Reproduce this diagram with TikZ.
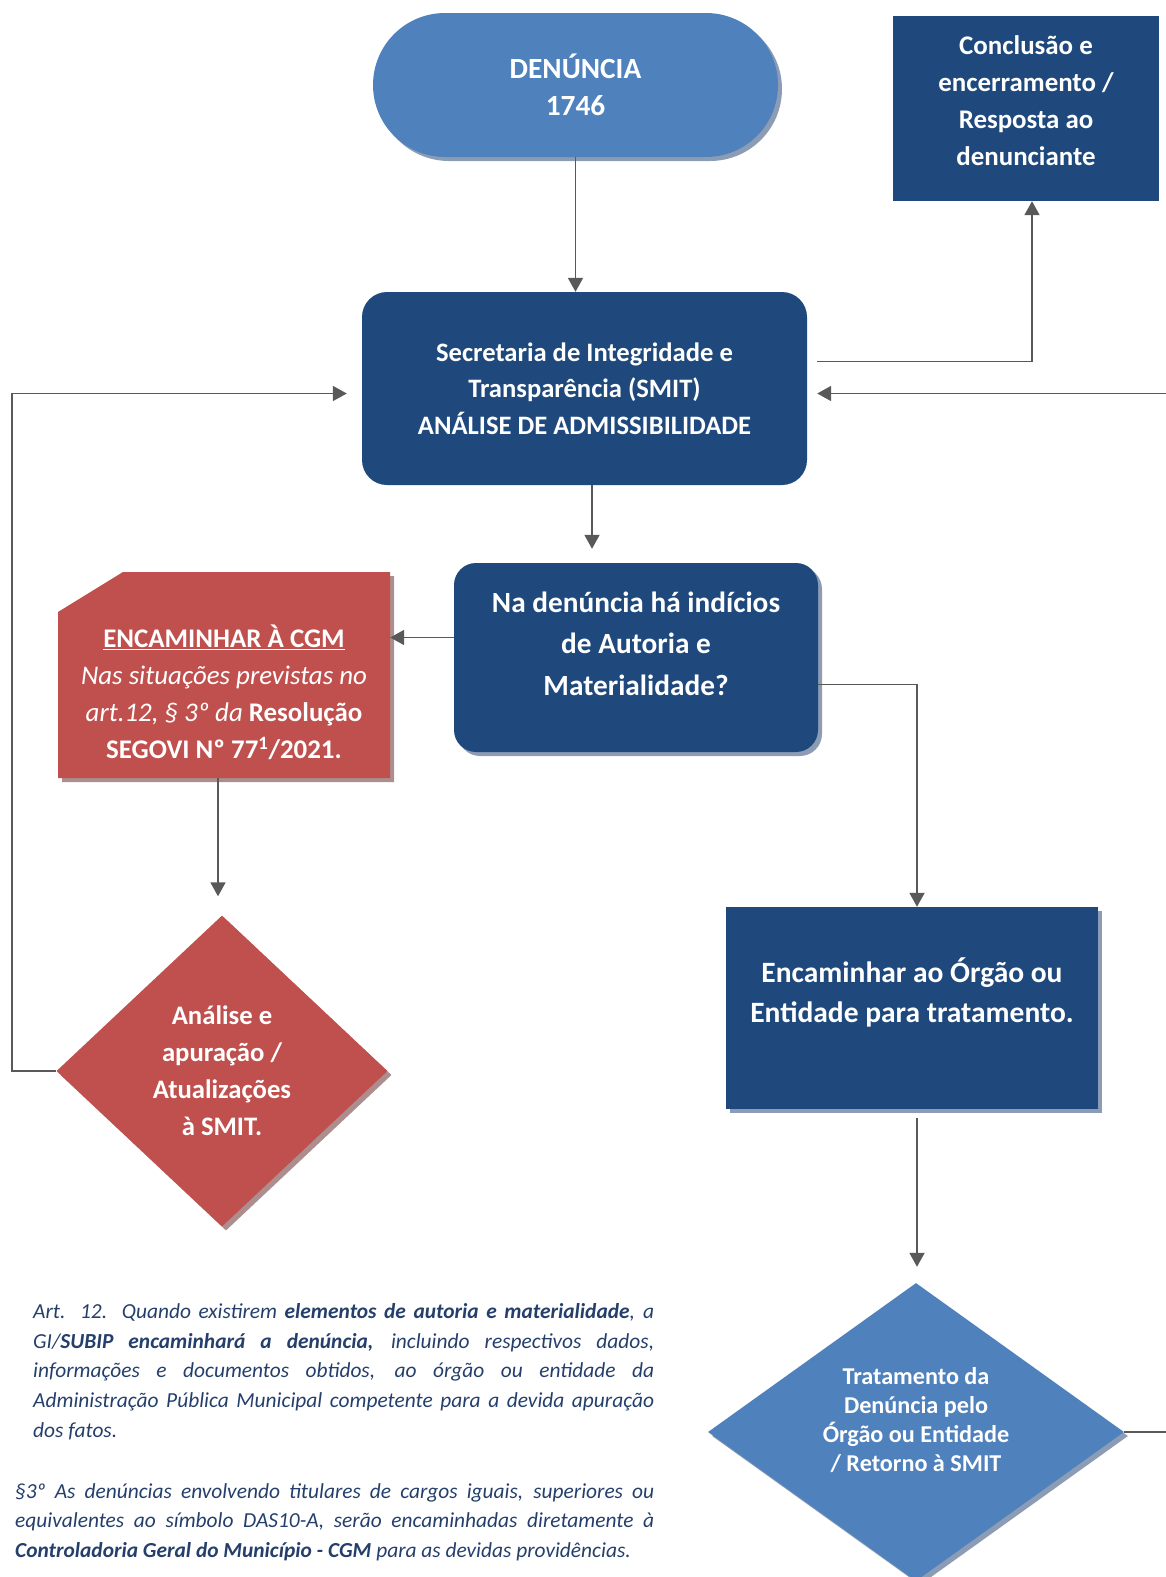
\documentclass[tikz,border=0pt]{standalone}
\usepackage{fontspec}
\setmainfont{Carlito}
\usetikzlibrary{arrows.meta,shapes.geometric,shadows}

\definecolor{darkblue}{HTML}{1F497D}
\definecolor{midblue}{HTML}{4F81BD}
\definecolor{cgmred}{HTML}{C0504D}
\definecolor{blueshadow}{HTML}{8C9CB4}
\definecolor{redshadow}{HTML}{AC8E8E}
\definecolor{arrowgray}{HTML}{595959}
\definecolor{notetext}{HTML}{243F6B}

\begin{document}
\begin{tikzpicture}[x=1pt,y=-1pt,
    bshadow/.style={drop shadow={shadow xshift=4pt,shadow yshift=-4pt,fill=blueshadow,opacity=1}},
    rshadow/.style={drop shadow={shadow xshift=4pt,shadow yshift=-4pt,fill=redshadow,opacity=1}},
    boxtext/.style={text=white,align=center,inner sep=0pt},
    arr/.style={draw=arrowgray,line width=1.8pt,-{Triangle[width=15pt,length=14pt]}},
    note/.style={text=notetext,align=justify,inner sep=0pt,anchor=north west,
      font=\fontsize{21.4}{29.8}\selectfont\itshape}]
    \useasboundingbox (0,0) rectangle (1166,1577);

    % Start of the flow
    \node[fill=midblue,bshadow,rounded corners=72pt,minimum width=405pt,minimum height=144pt,
      boxtext,font=\fontsize{29.3}{37}\selectfont\bfseries] (den) at (575.5,85) {DENÚNCIA\\1746};

    % Admissibility box
    \node[fill=darkblue,rounded corners=25pt,minimum width=445pt,minimum height=193pt,
      boxtext,font=\fontsize{26.6}{36.5}\selectfont\bfseries] (smit) at (584.5,388.5)
      {Secretaria de Integridade e\\Transparência (SMIT)\\ANÁLISE DE ADMISSIBILIDADE};

    % Conclusion box
    \node[fill=darkblue,minimum width=266pt,minimum height=185pt,
      label={[boxtext,yshift=7.5pt,font=\fontsize{26.9}{37}\selectfont\bfseries]center:{Conclusão e\\encerramento /\\Resposta ao\\denunciante}}]
      (concl) at (1026,108.5) {};

    % Question box
    \node[fill=darkblue,bshadow,rounded corners=22pt,minimum width=364pt,minimum height=189pt,
      label={[boxtext,yshift=14pt,font=\fontsize{29.3}{41.5}\selectfont\bfseries]center:{Na denúncia há indícios\\de Autoria e\\Materialidade?}}]
      (na) at (636,657.5) {};

    % CGM box with cut corner
    \fill[redshadow] (62,616) -- (127,576) -- (394,576) -- (394,782) -- (62,782) -- cycle;
    \fill[cgmred] (58,612) -- (123,572) -- (390,572) -- (390,778) -- (58,778) -- cycle;
    \node[minimum width=332pt,minimum height=206pt,
      label={[boxtext,yshift=-17.5pt,font=\fontsize{26.9}{37}\selectfont]center:{\textbf{\underline{ENCAMINHAR À CGM}}\\\textit{Nas situações previstas no}\\\textit{art.12, § 3º da} \textbf{Resolução}\\\textbf{SEGOVI Nº 77\textsuperscript{1}/2021.}}}]
      (cgm) at (224,675) {};

    % CGM analysis
    \node[diamond,fill=cgmred,rshadow,minimum width=331pt,minimum height=311pt,
      boxtext,font=\fontsize{26.7}{37}\selectfont\bfseries] (apur) at (222,1071)
      {Análise e\\apuração /\\Atualizações\\à SMIT.};

    % Forward to the body
    \node[fill=darkblue,bshadow,minimum width=372pt,minimum height=202pt,
      label={[boxtext,yshift=15.5pt,font=\fontsize{29.5}{40}\selectfont\bfseries]center:{Encaminhar ao Órgão ou\\Entidade para tratamento.}}]
      (encam) at (912,1008) {};

    % Treatment by the body
    \node[diamond,fill=midblue,bshadow,minimum width=416pt,minimum height=298pt,
      label={[boxtext,yshift=12pt,font=\fontsize{24.2}{29.3}\selectfont\bfseries]center:{Tratamento da\\Denúncia pelo\\Órgão ou Entidade\\/ Retorno à SMIT}}]
      (trat) at (916,1432) {};

    \coordinate (lft) at (12,0);
    \coordinate (rgt) at (1190,0);

    % Connectors
    \draw[arr] (den.south) -- (den.south |- smit.north);
    \draw[arr,shorten <=10pt] ([yshift=27pt]smit.east) -| ([xshift=6pt]concl.south);
    \draw[arr,shorten >=14pt] ([xshift=7.5pt]smit.south) -- ([xshift=7.5pt]smit.south |- na.north);
    \draw[arr] ([yshift=20pt]na.west) -- ([yshift=20pt]na.west -| cgm.east);
    \draw[arr,shorten >=19pt] ([xshift=-6pt]cgm.south) -- ([xshift=-6pt]cgm.south |- apur.north);
    \draw[arr,shorten >=15pt] (apur.west) -- (apur.west -| lft) |- ([yshift=-5pt]smit.west);
    \draw[arr] ([yshift=-27pt]na.east) -| ([xshift=5pt]encam.north);
    \draw[arr,shorten <=9pt,shorten >=16pt] ([xshift=5pt]encam.south) -- ([xshift=5pt]encam.south |- trat.north);
    \draw[arr,shorten >=10pt] (trat.east) -- (trat.east -| rgt) |- ([yshift=-5pt]smit.east);

    % Legal notes
    \node[note,text width=621pt] (art) at (33,1303)
      {Art. 12. Quando existirem \textbf{elementos de autoria e materialidade}, a\linebreak
       GI/\textbf{SUBIP encaminhará a denúncia,} incluindo respectivos dados,\linebreak
       informações e documentos obtidos, ao órgão ou entidade da\linebreak
       Administração Pública Municipal competente para a devida apuração\linebreak
       dos fatos.};
    \node[note,text width=639pt] (par3) at (15,1483)
      {§3º As denúncias envolvendo titulares de cargos iguais, superiores ou\linebreak
       equivalentes ao símbolo DAS10-A, serão encaminhadas diretamente à\linebreak
       \textbf{Controladoria Geral do Município - CGM} para as devidas providências.};
\end{tikzpicture}
\end{document}
